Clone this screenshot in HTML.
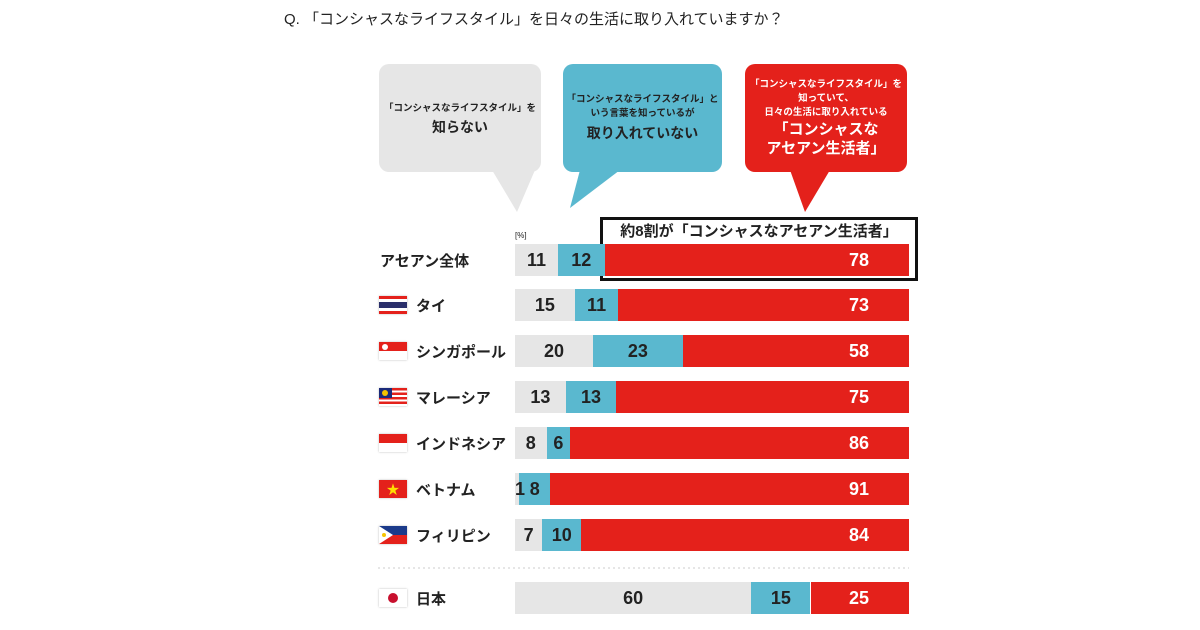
<!DOCTYPE html>
<html><head><meta charset="utf-8">
<style>
body{margin:0;width:1200px;height:630px;background:#fff;font-family:"Liberation Sans","Noto Sans CJK JP",sans-serif;position:relative;overflow:hidden;color:#222}
.abs{position:absolute}
.bubble{position:absolute;border-radius:10px;text-align:center;font-weight:bold;display:flex;flex-direction:column;justify-content:center;align-items:center;white-space:nowrap}
.lbl{position:absolute;font-size:15px;font-weight:bold;left:408px}
.seg{position:absolute;height:32px;font-size:18px;font-weight:bold;display:flex;align-items:center;justify-content:center;box-sizing:border-box;white-space:nowrap}
.flag{position:absolute;left:379px;width:28px;height:18px;box-shadow:0 0 2px #bbb}
</style></head><body>
<div class="abs" style="left:284px;top:8px;font-size:15px;">Q. 「コンシャスなライフスタイル」を日々の生活に取り入れていますか？</div>

<svg class="abs" style="left:0;top:0" width="1200" height="630">
<polygon points="492,170 535,170 517,212" fill="#e6e6e6"/>
<polygon points="580,170 620,170 570,208" fill="#5ab8cf"/>
<polygon points="790,170 830,170 805,212" fill="#e4211b"/>
<line x1="378" y1="568" x2="909" y2="568" stroke="#ccc" stroke-dasharray="2,3"/>
</svg>
<div class="bubble" style="left:379px;top:64px;width:162px;height:108px;background:#e6e6e6;">
<div style="font-size:9.5px">「コンシャスなライフスタイル」を</div><div style="font-size:14px;margin-top:3px">知らない</div></div>
<div class="bubble" style="left:563px;top:64px;width:159px;height:108px;background:#5ab8cf;">
<div style="font-size:9.5px;line-height:14px">「コンシャスなライフスタイル」と<br>いう言葉を知っているが</div><div style="font-size:14px;margin-top:2px">取り入れていない</div></div>
<div class="bubble" style="left:745px;top:64px;width:162px;height:108px;background:#e4211b;color:#fff;">
<div style="font-size:9.5px;line-height:14px">「コンシャスなライフスタイル」を<br>知っていて、<br>日々の生活に取り入れている</div><div style="font-size:15px;line-height:19px">「コンシャスな<br>アセアン生活者」</div></div>

<div class="abs" style="left:515px;top:231px;font-size:8px">[%]</div>
<div class="abs" style="left:600px;top:217px;width:318px;height:64px;border:3px solid #111;box-sizing:border-box"></div>
<div class="abs" style="left:603px;top:220px;width:312px;text-align:center;font-size:15px;font-weight:bold">約8割が「コンシャスなアセアン生活者」</div>

<div id="chart"></div>
<script>
const countries=["アセアン全体","タイ","シンガポール","マレーシア","インドネシア","ベトナム","フィリピン","日本"];
const unaware=[11,15,20,13,8,1,7,60];
const notAdopting=[12,11,23,13,6,8,10,15];
const conscious=[78,73,58,75,86,91,84,25];
const rowY=[244,289,335,381,427,473,519,582];
const x0=515,W=394;
const colors=["#e6e6e6","#5ab8cf","#e4211b"];
const chart=document.getElementById('chart');
const flagSvgs=[null,
'<svg width="28" height="18"><rect width="28" height="18" fill="#e4211b"/><rect y="3" width="28" height="12" fill="#fff"/><rect y="6" width="28" height="6" fill="#2a2f6b"/></svg>',
'<svg width="28" height="18"><rect width="28" height="9" fill="#e4211b"/><rect y="9" width="28" height="9" fill="#fff"/><circle cx="6" cy="5" r="3" fill="#fff"/></svg>',
'<svg width="28" height="18"><rect width="28" height="18" fill="#e4211b"/><rect y="2.5" width="28" height="2" fill="#fff"/><rect y="7" width="28" height="2" fill="#fff"/><rect y="11.5" width="28" height="2" fill="#fff"/><rect y="16" width="28" height="2" fill="#fff"/><rect width="13" height="10" fill="#1b2a7a"/><circle cx="6" cy="5" r="3" fill="#f5c400"/></svg>',
'<svg width="28" height="18"><rect width="28" height="9" fill="#e4211b"/><rect y="9" width="28" height="9" fill="#fff"/></svg>',
'<svg width="28" height="18"><rect width="28" height="18" fill="#e4211b"/><text x="14" y="14" font-size="13" fill="#ffdd00" text-anchor="middle">★</text></svg>',
'<svg width="28" height="18"><rect width="28" height="9" fill="#1b3a8a"/><rect y="9" width="28" height="9" fill="#e4211b"/><polygon points="0,0 14,9 0,18" fill="#fff"/><circle cx="5" cy="9" r="2" fill="#f5c400"/></svg>',
'<svg width="28" height="18"><rect width="28" height="18" fill="#fff"/><circle cx="14" cy="9" r="5" fill="#c8102e"/></svg>'];
function xs(v,t){return v/t*W;}
countries.forEach((c,i)=>{
  const y=rowY[i];
  const l=document.createElement('div');l.className='lbl';
  
  
  l.style.top=(y+6)+'px';l.style.left=(i===0?'380px':'416px');l.textContent=c;chart.appendChild(l);
  if(flagSvgs[i]){const f=document.createElement('div');f.className='flag';
    
    
    f.style.top=(y+7)+'px';f.innerHTML=flagSvgs[i];chart.appendChild(f);}
  const vals=[unaware[i],notAdopting[i],conscious[i]];
  const t=vals[0]+vals[1]+vals[2];
  let x=x0;
  vals.forEach((v,k)=>{
    const w=xs(v,t);
    const s=document.createElement('div');s.className='seg';
    
    
    s.style.left=x+'px';s.style.top=y+'px';s.style.width=w+'px';s.style.background=colors[k];
    s.style.color=k===2?'#fff':'#222';
    if(k===2){s.style.justifyContent='flex-end';s.style.paddingRight='40px';}
    s.textContent=v;
    if(v<3){s.style.justifyContent='flex-start';s.style.overflow='visible';s.style.zIndex='2';}
    chart.appendChild(s);x+=w;
  });
});
</script>
</body></html>
